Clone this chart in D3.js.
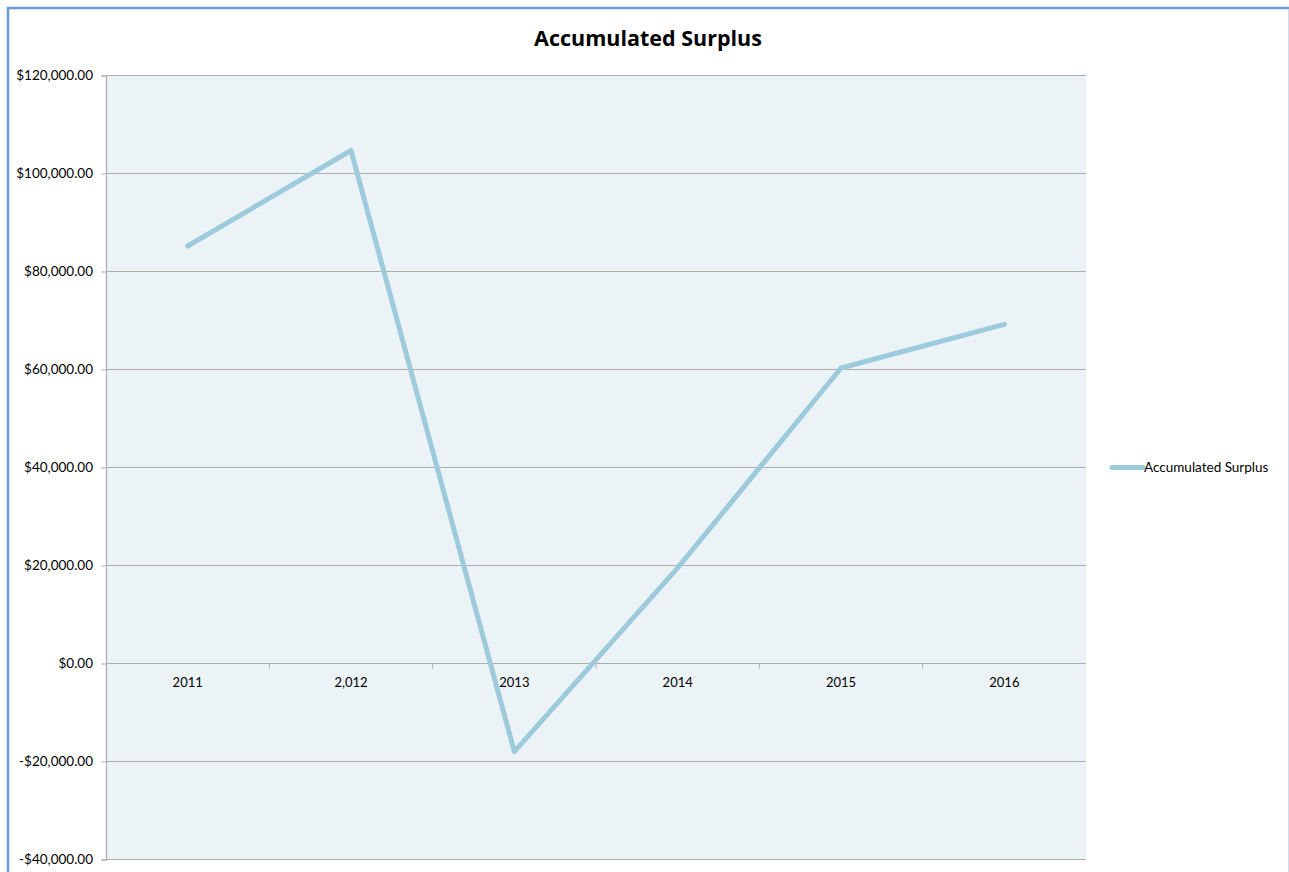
<!DOCTYPE html>
<html>
<head>
<meta charset="utf-8">
<script src="https://cdn.jsdelivr.net/npm/d3@7/dist/d3.min.js"></script>
<style>
  html, body { margin: 0; padding: 0; background: #ffffff; }
  svg { display: block; }
  text { font-family: Lato, "Open Sans", "Noto Sans", sans-serif; fill: #000; }
</style>
</head>
<body>
<svg id="chart" width="1289" height="872"></svg>
<script>
// Year labels along the category axis
const categories = ["2011", "2,012", "2013", "2014", "2015", "2016"];
// Accumulated surplus per year (dollars)
const surplus = [85200, 104700, -18000, 19500, 60300, 69200];
// Value axis ticks
const yTicks = [-40000, -20000, 0, 20000, 40000, 60000, 80000, 100000, 120000];
const seriesName = "Accumulated Surplus";
const chartTitle = "Accumulated Surplus";

const svg = d3.select("#chart");
const W = 1289, H = 872;
const plot = { left: 106, right: 1086, top: 75.5, bottom: 859.5 };

const lineColor = "#9dcbdc";
const gridColor = "#adadad";

// chart frame
svg.append("line").attr("x1", 8).attr("x2", 8).attr("y1", 7).attr("y2", H)
  .attr("stroke", "#6a9bd2").attr("stroke-width", 2.5);
svg.append("line").attr("x1", 7).attr("x2", 1289).attr("y1", 8).attr("y2", 8)
  .attr("stroke", "#6a9bd2").attr("stroke-width", 2.5);
svg.append("line").attr("x1", 1288.5).attr("x2", 1288.5).attr("y1", 9).attr("y2", H)
  .attr("stroke", "#cfdced").attr("stroke-width", 1);

const x = d3.scaleBand().domain(categories).range([plot.left, plot.right]).padding(0);
const y = d3.scaleLinear().domain([-40000, 120000]).range([plot.bottom, plot.top]);

// plot background
svg.append("rect")
  .attr("x", plot.left).attr("y", plot.top)
  .attr("width", plot.right - plot.left).attr("height", plot.bottom - plot.top)
  .attr("fill", "#ecf3f7");

// horizontal gridlines
svg.append("g").selectAll("line").data(yTicks).join("line")
  .attr("x1", plot.left).attr("x2", plot.right)
  .attr("y1", d => y(d)).attr("y2", d => y(d))
  .attr("stroke", gridColor).attr("stroke-width", 1.2);

// value axis
const fmt = d3.formatLocale({ decimal: ".", thousands: ",", grouping: [3], currency: ["$", ""], minus: "-" }).format("$,.2f");
const yAxis = d3.axisLeft(y).tickValues(yTicks).tickFormat(fmt).tickSize(5).tickPadding(8);
const gy = svg.append("g").attr("transform", `translate(${plot.left},0)`).call(yAxis);
gy.select(".domain").attr("stroke", gridColor).attr("stroke-width", 1.2);
gy.selectAll(".tick line").attr("stroke", gridColor);
gy.selectAll(".tick text").attr("font-size", 13.5).attr("fill", "#000")
  .style("font-family", "Lato, 'Open Sans', sans-serif");

// category axis on the zero line
const xAxis = d3.axisBottom(x).tickSize(0).tickPadding(14);
const gx = svg.append("g").attr("transform", `translate(0,${y(0)})`).call(xAxis);
gx.select(".domain").remove();
gx.selectAll(".tick text").attr("font-size", 13).attr("fill", "#000")
  .style("font-family", "Lato, 'Open Sans', sans-serif");
// tick marks at category boundaries
const bounds = categories.slice(1).map(c => x(c));
svg.append("g").selectAll("line").data(bounds).join("line")
  .attr("x1", d => d).attr("x2", d => d)
  .attr("y1", y(0)).attr("y2", y(0) + 5)
  .attr("stroke", gridColor).attr("stroke-width", 1);

// series line
const line = d3.line()
  .x((d, i) => x(categories[i]) + x.bandwidth() / 2)
  .y(d => y(d));
svg.append("path").datum(surplus)
  .attr("d", line)
  .attr("fill", "none")
  .attr("stroke", lineColor)
  .attr("stroke-width", 5)
  .attr("stroke-linejoin", "round")
  .attr("stroke-linecap", "round");

// title
svg.append("text")
  .attr("x", 648).attr("y", 45.5)
  .attr("text-anchor", "middle")
  .style("font-family", "'Open Sans', Lato, sans-serif")
  .attr("font-size", 21.5).attr("font-weight", "bold")
  .text(chartTitle);

// legend
const ly = 467.5;
svg.append("line").attr("x1", 1112).attr("x2", 1143).attr("y1", ly).attr("y2", ly)
  .attr("stroke", lineColor).attr("stroke-width", 5).attr("stroke-linecap", "round");
svg.append("text").attr("x", 1144).attr("y", ly + 4.5)
  .attr("font-size", 13.5).text(seriesName);
</script>
</body>
</html>
